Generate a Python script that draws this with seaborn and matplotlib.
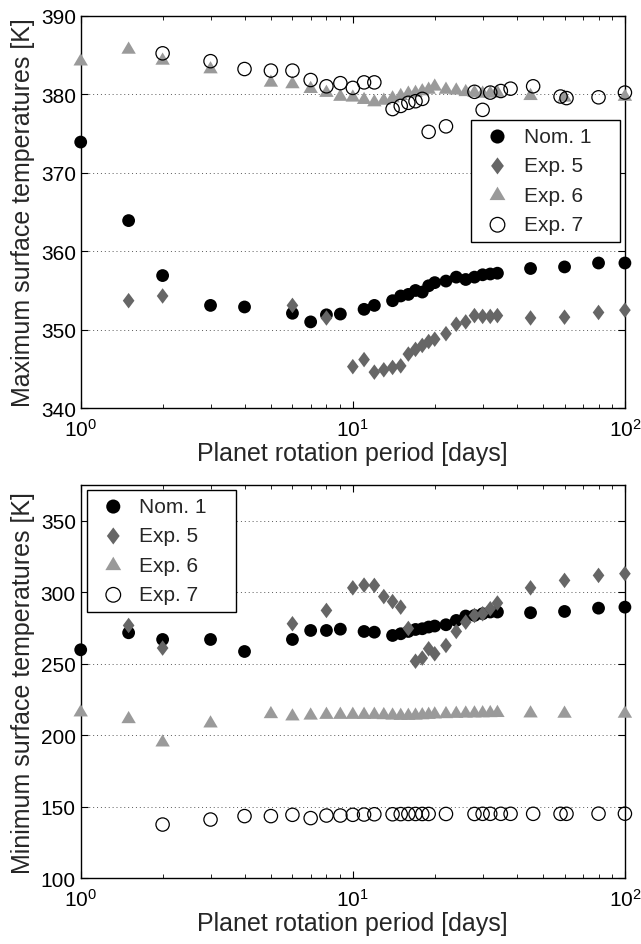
import numpy as np
import pandas as pd
import matplotlib
matplotlib.use("Agg")
import matplotlib.pyplot as plt
import seaborn as sns
from matplotlib.ticker import LogLocator, NullFormatter, FixedLocator

# ---------------- data ----------------
series_names = ["Nom. 1", "Exp. 5", "Exp. 6", "Exp. 7"]

nom1_period = [1, 1.5, 2, 3, 4, 6, 7, 8, 9, 11, 12, 14, 15, 16, 17, 18, 19, 20,
               22, 24, 26, 28, 30, 32, 34, 45, 60, 80, 100]
nom1_tmax = [373.9, 363.9, 356.9, 353.1, 352.9, 352.1, 351.0, 351.9, 352.0, 352.6,
             353.1, 353.7, 354.3, 354.5, 355.0, 354.8, 355.6, 356.0, 356.2, 356.7,
             356.4, 356.7, 357.0, 357.1, 357.2, 357.8, 358.0, 358.5, 358.5]
nom1_tmin = [259.8, 271.7, 267.0, 267.0, 258.6, 267.0, 273.3, 273.3, 274.2, 272.6,
             272.1, 269.8, 271.0, 272.6, 274.0, 274.5, 275.7, 276.4, 277.3, 280.3,
             283.4, 283.8, 285.0, 286.2, 286.2, 285.7, 286.6, 288.9, 289.6]

exp5_period = [1.5, 2, 6, 8, 10, 11, 12, 13, 14, 15, 16, 17, 18, 19, 20, 22, 24,
               26, 28, 30, 32, 34, 45, 60, 80, 100]
exp5_tmax = [353.7, 354.3, 353.1, 351.5, 345.3, 346.2, 344.6, 344.9, 345.2, 345.4,
             346.9, 347.5, 348.0, 348.5, 348.8, 349.5, 350.7, 351.0, 351.8, 351.7,
             351.7, 351.8, 351.5, 351.6, 352.2, 352.5]
exp5_tmin = [276.8, 261.0, 278.0, 287.3, 303.1, 305.0, 304.8, 297.0, 293.5, 289.6,
             274.7, 251.8, 254.0, 260.5, 257.0, 262.8, 272.6, 279.1, 283.8, 285.0,
             288.5, 292.5, 303.1, 308.3, 311.8, 313.0]

exp6_period = [1, 1.5, 2, 3, 5, 6, 7, 8, 9, 10, 11, 12, 13, 14, 15, 16, 17, 18,
               19, 20, 22, 24, 26, 28, 30, 32, 34, 45, 60, 100]
exp6_tmax = [384.2, 385.7, 384.3, 383.2, 381.5, 381.3, 380.7, 380.2, 379.7, 379.6,
             379.3, 379.0, 379.2, 379.5, 379.8, 380.1, 380.2, 380.4, 380.6, 381.0,
             380.6, 380.5, 380.3, 380.2, 380.1, 380.1, 380.2, 379.8, 379.6, 379.7]
exp6_tmin = [216.2, 211.5, 195.2, 208.5, 215.0, 213.4, 214.0, 214.5, 214.5, 214.5,
             214.5, 214.5, 214.3, 214.0, 213.8, 213.8, 214.0, 214.2, 214.5, 214.8,
             215.0, 215.2, 215.4, 215.5, 215.6, 215.7, 215.8, 215.5, 215.3, 215.3]

exp7_period = [2, 3, 4, 5, 6, 7, 8, 9, 10, 11, 12, 14, 15, 16, 17, 18, 19, 22,
               28, 30, 32, 35, 38, 46, 58, 61, 80, 100]
exp7_tmax = [385.2, 384.2, 383.2, 383.0, 383.0, 381.8, 381.0, 381.4, 380.8, 381.5,
             381.5, 378.1, 378.5, 378.9, 379.1, 379.4, 375.2, 375.9, 380.3, 378.0,
             380.2, 380.4, 380.7, 381.0, 379.7, 379.5, 379.6, 380.2]
exp7_tmin = [137.6, 141.1, 143.5, 143.5, 144.4, 142.1, 143.9, 143.9, 144.4, 144.6,
             144.8, 144.8, 144.9, 145.0, 145.0, 145.0, 145.0, 145.0, 145.0, 145.1,
             145.1, 145.1, 145.1, 145.1, 145.1, 145.1, 145.2, 145.2]

top_yticks = [340, 350, 360, 370, 380, 390]
bot_yticks = [100, 150, 200, 250, 300, 350]

# ---------------- styling ----------------
sns.set_theme(style="ticks")
plt.rcParams["font.family"] = ["Liberation Sans", "DejaVu Sans"]
plt.rcParams["mathtext.default"] = "regular"
plt.rcParams["axes.linewidth"] = 1.0

diamond = [(0, 1), (0.75, 0), (0, -1), (-0.75, 0), (0, 1)]
triangle = [(-1, -0.6), (1, -0.6), (0, 1.1), (-1, -0.6)]

styles = {
    "Nom. 1": dict(marker="o", s=85, color="black", edgecolor="none"),
    "Exp. 5": dict(marker=diamond, s=125, color="#666666", edgecolor="none"),
    "Exp. 6": dict(marker=triangle, s=130, color="#9a9a9a", edgecolor="none"),
    "Exp. 7": dict(marker="o", s=92, facecolor="none", edgecolor="black", linewidth=0.9),
}

fig = plt.figure(figsize=(6.41, 9.45), dpi=100)
ax_top = fig.add_axes([0.1259, 0.5669, 0.8490, 0.4155])
ax_bot = fig.add_axes([0.1259, 0.0695, 0.8490, 0.4162])

panels = [
    (ax_top, [nom1_tmax, exp5_tmax, exp6_tmax, exp7_tmax], top_yticks,
     "Maximum surface temperatures [K]", (0.718, 0.427, 0.273, 0.308)),
    (ax_bot, [nom1_tmin, exp5_tmin, exp6_tmin, exp7_tmin], bot_yticks,
     "Minimum surface temperatures [K]", (0.012, 0.676, 0.2727, 0.312)),
]
periods = [nom1_period, exp5_period, exp6_period, exp7_period]

for ax, temps, yt, ylab, lbox in panels:
    for name, per, tv in zip(series_names, periods, temps):
        df = pd.DataFrame({"period": per, "temp": tv})
        sns.scatterplot(data=df, x="period", y="temp", ax=ax, label=name,
                        zorder=3, clip_on=False, **styles[name])
    ax.set_xscale("log")
    ax.set_xlim(1, 100)
    if yt is top_yticks:
        ax.set_ylim(340, 390)
    else:
        ax.set_ylim(100, 375)
    ax.yaxis.set_major_locator(FixedLocator(yt))
    ax.xaxis.set_major_locator(LogLocator(base=10, numticks=5))
    ax.xaxis.set_minor_locator(LogLocator(base=10, subs=np.arange(2, 10), numticks=20))
    ax.xaxis.set_minor_formatter(NullFormatter())
    ax.tick_params(axis="both", which="both", direction="in", top=True, right=True,
                   labelsize=15, colors="black")
    ax.tick_params(axis="both", which="major", length=5, width=0.8)
    ax.tick_params(axis="x", which="minor", length=3, width=0.6)
    ax.tick_params(axis="x", which="major", pad=7)
    ax.yaxis.grid(True, linestyle=(0, (1, 3)), color="0.35", linewidth=0.7)
    ax.xaxis.grid(False)
    ax.set_axisbelow(True)
    for sp in ax.spines.values():
        sp.set_color("black")
        sp.set_linewidth(1.0)
    ax.set_xlabel("Planet rotation period [days]", fontsize=18, labelpad=1)
    ax.set_ylabel(ylab, fontsize=18, labelpad=4)
    leg = ax.legend(loc="upper left", bbox_to_anchor=lbox, mode="expand",
                    borderaxespad=0, fontsize=15, frameon=True, fancybox=False,
                    framealpha=1, edgecolor="black", handlelength=1.8,
                    handletextpad=0.35, borderpad=0.35, labelspacing=0.5,
                    markerscale=1.1)
    leg.get_frame().set_linewidth(1.0)
    leg.set_zorder(5)

fig.savefig("out.png", dpi=100)
